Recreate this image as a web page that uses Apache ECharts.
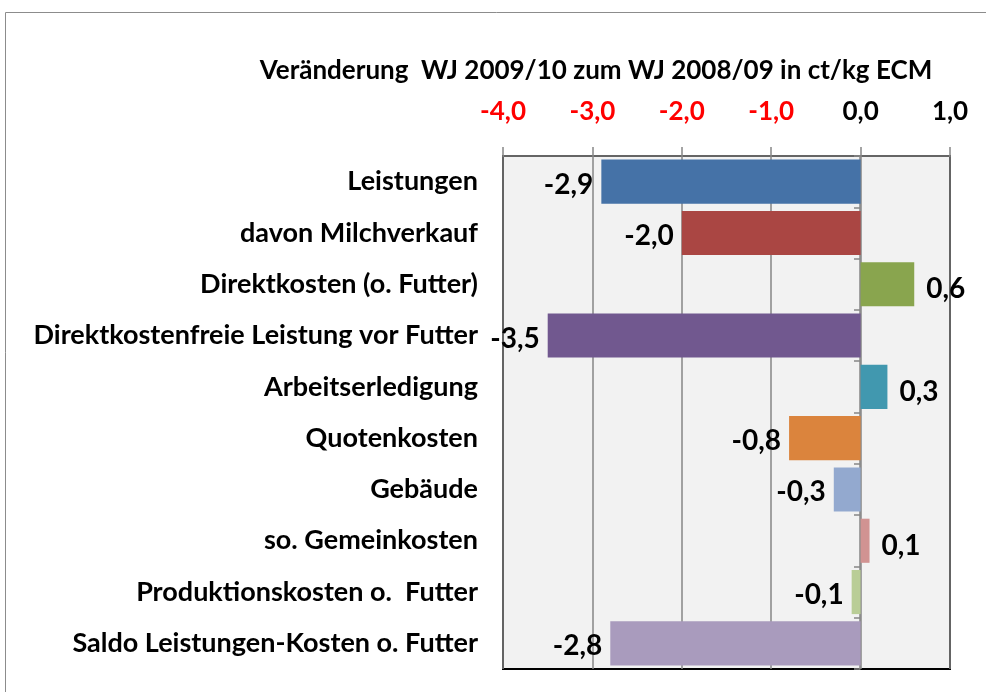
<!DOCTYPE html>
<html>
<head>
<meta charset="utf-8">
<script src="https://cdn.jsdelivr.net/npm/echarts@6/dist/echarts.min.js"></script>
<style>
html,body{margin:0;padding:0;background:#fff;}
#main{width:986px;height:692px;}
</style>
</head>
<body>
<div id="main"></div>
<script>
var categories = ['Leistungen', 'davon Milchverkauf', 'Direktkosten (o. Futter)', 'Direktkostenfreie Leistung vor Futter', 'Arbeitserledigung', 'Quotenkosten', 'Gebäude', 'so. Gemeinkosten', 'Produktionskosten o.  Futter', 'Saldo Leistungen-Kosten o. Futter'];
var values = [-2.9, -2.0, 0.6, -3.5, 0.3, -0.8, -0.3, 0.1, -0.1, -2.8];
var xTicks = [-4, -3, -2, -1, 0, 1];
var palette = ['#4572A7', '#AA4643', '#89A54E', '#71588F', '#4198AF', '#DB843D', '#93A9CF', '#D19392', '#B9CD96', '#A99BBD'];

var FONT = 'Lato';
var FS = 26;
function fmt(v) { return v.toFixed(1).replace('.', ','); }

var chart = echarts.init(document.getElementById('main'));
var barData = [];
for (var i = 0; i < values.length; i++) {
	var neg = values[i] < 0;
	barData.push({
		value: values[i],
		itemStyle: { color: palette[i] },
		label: {
			position: neg ? 'left' : 'right',
			distance: neg ? 8 : 12,
			offset: neg ? [0, 3] : [0, 5]
		}
	});
}

chart.setOption({
	animation: false,
	title: {
		text: 'Veränderung  WJ 2009/10 zum WJ 2008/09 in ct/kg ECM',
		left: 591,
		top: 53,
		textAlign: 'center',
		textStyle: { fontFamily: FONT, fontWeight: 'bold', fontSize: FS, color: '#000' }
	},
	graphic: [{
		type: 'rect',
		shape: { x: 5.5, y: 12.5, width: 1000, height: 700 },
		style: { fill: 'none', stroke: '#8c8c8c', lineWidth: 1 },
		silent: true
	}],
	grid: {
		left: 503, right: 36, top: 156, bottom: 23,
		show: true,
		backgroundColor: '#f2f2f2',
		borderColor: '#000',
		borderWidth: 2
	},
	xAxis: {
		type: 'value',
		position: 'top',
		min: xTicks[0], max: xTicks[xTicks.length - 1], interval: 1,
		axisLine: { show: true, lineStyle: { color: '#868686', width: 1.5 } },
		axisTick: { show: true, length: 9, lineStyle: { color: '#868686', width: 1.5 } },
		splitLine: { show: true, lineStyle: { color: '#868686', width: 1.5 } },
		axisLabel: {
			margin: 31,
			fontFamily: FONT, fontWeight: 'bold', fontSize: FS,
			formatter: function (v) { return fmt(v); },
			color: function (v) { return v < 0 ? '#ff0000' : '#000'; }
		}
	},
	yAxis: [{
		type: 'category',
		data: categories,
		inverse: true,
		axisLine: { show: false, onZero: false },
		axisTick: { show: false },
		axisLabel: {
			margin: 25,
			fontFamily: FONT, fontWeight: 'bold', fontSize: 27, color: '#000'
		}
	}, {
		type: 'category',
		data: categories,
		inverse: true,
		position: 'left',
		offset: -357,
		axisLine: { show: true, onZero: false, lineStyle: { color: '#868686', width: 1.5 } },
		axisTick: { show: true, length: 6, lineStyle: { color: '#868686', width: 1.5 } },
		axisLabel: { show: false }
	}],
	series: [{
		type: 'bar',
		data: barData,
		barCategoryGap: '14%',
		label: {
			show: true,
			fontFamily: FONT, fontWeight: 'bold', fontSize: 28, color: '#000',
			formatter: function (p) { return fmt(p.value); }
		}
	}]
});
</script>
</body>
</html>
